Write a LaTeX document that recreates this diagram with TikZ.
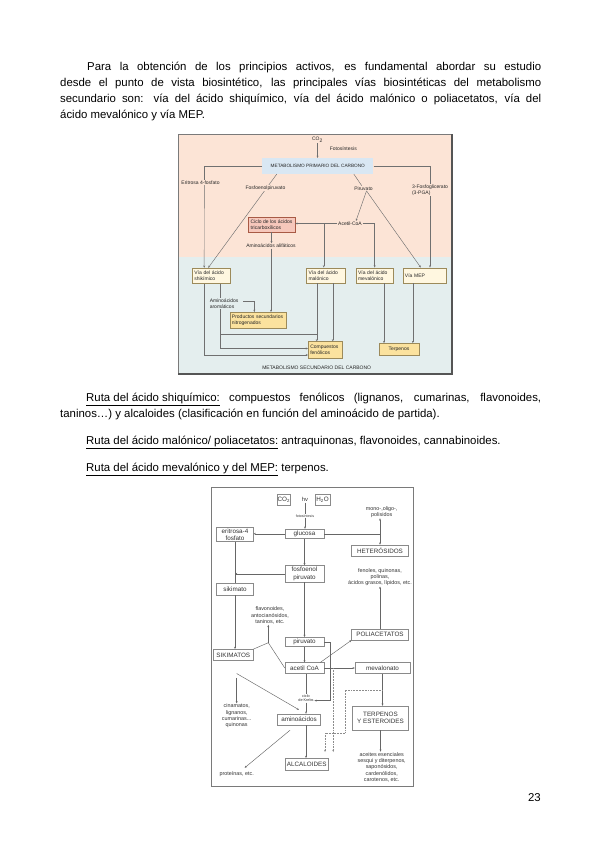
\documentclass[tikz,border=0pt]{standalone}
\usepackage{fontspec}
\setmainfont{Liberation Sans}
\usetikzlibrary{arrows.meta,calc}
\definecolor{peach}{HTML}{FCE4D6}
\definecolor{paleblue}{HTML}{E4EEEE}
\definecolor{metablue}{HTML}{D9E7F3}
\definecolor{ciclofill}{HTML}{F6C7BB}
\definecolor{ciclodraw}{HTML}{A85A45}
\definecolor{viafill}{HTML}{FFF7E0}
\definecolor{viadraw}{HTML}{9C8A5A}
\definecolor{yfill}{HTML}{FBE29E}
\definecolor{lnc}{HTML}{707070}
\definecolor{frameA}{HTML}{555555}
\definecolor{frameB}{HTML}{7A7A7A}
\definecolor{boxgray}{HTML}{8A8A8A}
\definecolor{txtB}{HTML}{333333}
\begin{document}
\begin{tikzpicture}[x=1pt,y=-1pt,
  body/.style={anchor=base west,inner sep=0pt,font=\fontsize{11.4}{13}\selectfont},
  dtxt/.style={inner sep=0.6pt,font=\fontsize{5}{6.5}\selectfont,text=black!85},
  metabox/.style={fill=metablue,inner sep=0pt,minimum width=111pt,minimum height=15.7pt,font=\fontsize{4.7}{6}\selectfont,text=black!85},
  ciclobox/.style={fill=ciclofill,draw=ciclodraw,line width=0.45pt,inner sep=0pt,minimum width=47pt,minimum height=15pt,align=left,font=\fontsize{5}{6.5}\selectfont,text=black!85},
  viabox/.style={fill=viafill,draw=viadraw,line width=0.45pt,inner xsep=2pt,inner ysep=0pt,minimum height=15.5pt,align=left,font=\fontsize{5}{6.5}\selectfont,text=black!85},
  ybox/.style={fill=yfill,draw=viadraw,line width=0.45pt,inner xsep=2pt,inner ysep=0pt,font=\fontsize{5}{6.5}\selectfont,text=black!85},
  ln/.style={draw=lnc,line width=0.45pt},
  arr/.style={-{Stealth[length=2.3pt,width=1.9pt]}},
  bbox/.style={draw=boxgray,line width=0.45pt,fill=white,inner sep=0.5pt,align=center,font=\fontsize{6.3}{7.3}\selectfont,text=txtB},
  bsmall/.style={inner sep=0.5pt,align=center,font=\fontsize{5.4}{6.3}\selectfont,text=txtB},
  ln2/.style={draw=black!60,line width=0.45pt},
  dotl/.style={draw=black!45,line width=0.55pt,densely dotted}
]
\fill[white] (0,0) rectangle (599,848);
\useasboundingbox (0,0) rectangle (599,848);

% ---------- body text ----------
\node[body] (p1a) at (87,70.5) {\makebox[454pt][s]{Para la obtención de los principios activos, es fundamental abordar su estudio}};
\node[body] (p1b) at (60,86.5) {\makebox[481pt][s]{desde el punto de vista biosintético, las principales vías biosintéticas del metabolismo}};
\node[body] (p1c) at (60,102.5) {\makebox[481pt][s]{secundario son: vía del ácido shiquímico, vía del ácido malónico o poliacetatos, vía del}};
\node[body] (p1d) at (60,118.5) {ácido mevalónico y vía MEP.};
\node[body] (p2a) at (86,401) {\makebox[455pt][s]{\underline{Ruta del ácido shiquímico:} compuestos fenólicos (lignanos, cumarinas, flavonoides,}};
\node[body] (p2b) at (60,417) {taninos…) y alcaloides (clasificación en función del aminoácido de partida).};
\node[body] (p3) at (86,444) {\underline{Ruta del ácido malónico/ poliacetatos:} antraquinonas, flavonoides, cannabinoides.};
\node[body] (p4) at (86,471) {\underline{Ruta del ácido mevalónico y del MEP:} terpenos.};
\node[body,anchor=base east] (pg) at (541,801) {23};

% ---------- diagram 1 ----------
\fill[peach] (178,134) rectangle (452,257);
\fill[paleblue] (178,257) rectangle (452,374);
\draw[frameB,line width=0.5pt] (178,134) rectangle (452,374);
\draw[frameA,line width=1.6pt] (452,134) -- (452,374) -- (178,374);

\node[dtxt] (co2a) at (317.5,140) {CO\textsubscript{2}};
\node[dtxt,anchor=west] (fots) at (329,149) {Fotosíntesis};
\node[metabox] (meta) at (317.8,166) {METABOLISMO PRIMARIO DEL CARBONO};
\node[dtxt] (eri) at (200.5,182.5) {Eritrosa 4-fosfato};
\node[dtxt,align=left] (pga) at (430,190) {3-Fosfoglicerato\\(3-PGA)};
\node[dtxt] (piru) at (363.5,188.3) {Piruvato};
\node[dtxt] (acet) at (350,223.5) {Acetil-CoA};
\node[ciclobox] (ciclo) at (271.5,224.5) {Ciclo de los ácidos\\tricarboxílicos};
\node[dtxt] (alif) at (271,246) {Aminoácidos alifáticos};
\node[viabox,text width=33.7pt] (shik) at (211.2,275.8) {Vía del ácido\\shikímico};
\node[viabox,text width=34.5pt] (malo) at (325.8,275.5) {Vía del ácido\\malónico};
\node[viabox,text width=33.3pt] (meva) at (374.7,275.5) {Vía del ácido\\mevalónico};
\node[viabox,text width=39.7pt] (mep) at (424.8,275.5) {Vía MEP};
\node[dtxt,align=left,anchor=west] (arom) at (209,303.5) {Aminoácidos\\aromáticos};
\node[ybox,text width=52.7pt,minimum height=16pt,align=left] (prod) at (258.3,320.3) {Productos secundarios\\nitrogenados};
\node[ybox,text width=30pt,minimum height=16.6pt,align=left] (comp) at (325.3,350) {Compuestos\\fenólicos};
\node[ybox,minimum width=40pt,minimum height=11.7pt] (terp) at (399,349.2) {Terpenos};
\node[dtxt] (msec) at (316.7,367.3) {METABOLISMO SECUNDARIO DEL CARBONO};

\draw[ln,arr] (co2a) -- (co2a |- meta.north);
\draw[ln] (meta.west) -| ([xshift=3.8pt]eri.north);
\draw[ln,arr] ([xshift=3.8pt]eri.south) -- ([xshift=-7pt]shik.north);
\draw[ln,arr] ([xshift=-41pt]meta.south) -- ([xshift=-3pt]shik.north);
\node[dtxt,fill=peach] (fos) at (265.5,188.3) {Fosfoenolpiruvato};
\draw[ln] (meta.east) -| (pga.north);
\draw[ln,arr] (pga.south) -- (pga.south |- mep.north);
\draw[ln] ([xshift=36pt]meta.south) -- (piru);
\draw[ln,arr] ([xshift=3pt]piru.south) -- ([xshift=6pt]acet.north);
\draw[ln,arr] ([xshift=3pt]piru.south) -- ([xshift=-4pt]mep.north);
\draw[ln,arr] (acet.west) -- (acet.west -| ciclo.east);
\coordinate (jm) at ([xshift=-2pt]acet.west -| malo.north);
\draw[ln,arr] (jm) -- (jm |- malo.north);
\draw[ln,arr] (acet.east) -| (meva.north);
\draw[ln,arr] (ciclo.south) -- (ciclo.south |- alif.north);
\draw[ln,arr] (alif.south) -- (alif.south |- prod.north);
\draw[ln] ([xshift=9.5pt]shik.south) -- ([xshift=9.5pt]shik.south |- arom.north);
\draw[ln,arr] ([xshift=4pt,yshift=2pt]arom.east) -| ([xshift=-4pt]prod.north);
\draw[ln,arr] ([xshift=-7pt]shik.south) |- ([yshift=-5pt]comp.west);
\draw[ln,arr] ([xshift=9.5pt]shik.south |- arom.south) |- ([yshift=1.5pt]comp.west);
\coordinate (h1) at ([xshift=9.5pt]shik.south |- 0,334);
\coordinate (h2) at ([xshift=-9pt]malo.south |- 0,334);
\draw[ln] (h1) -- (h2);
\draw[ln,arr] ([xshift=-9pt]malo.south) -- ([xshift=-9pt]malo.south |- comp.north);
\draw[ln,arr] ([xshift=7pt]malo.south) -- ([xshift=7pt]malo.south |- comp.north);
\draw[ln,arr] ([xshift=9.3pt]meva.south) -- ([xshift=9.3pt]meva.south |- terp.north);
\draw[ln,arr] ([xshift=-12pt]mep.south) -- ([xshift=-12pt]mep.south |- terp.north);

% ---------- diagram 2 ----------
\draw[frameB,line width=1.1pt,fill=white] (211.7,487.7) rectangle (413.3,786.7);

\node[bbox,minimum width=12.3pt,minimum height=11.7pt] (co2b) at (283.8,499.8) {CO\textsubscript{2}};
\node[bsmall,font=\fontsize{5.8}{6.5}\selectfont] (hv) at (305,499.7) {hv};
\node[bbox,minimum width=15pt,minimum height=11.7pt] (h2o) at (322.5,499.8) {H\textsubscript{2}O};
\node[bsmall,font=\fontsize{3.6}{4.2}\selectfont] (fot2) at (305,515.7) {fotosíntesis};
\node[bbox,minimum width=39pt,minimum height=9.5pt] (gluc) at (304.5,533.8) {glucosa};
\node[bbox,minimum width=36.6pt,minimum height=14pt] (eri2) at (235,534.7) {eritrosa-4\\fosfato};
\node[bsmall] (mono) at (381.7,512) {mono-,oligo-,\\polisidos};
\node[bbox,minimum width=56.6pt,minimum height=11.7pt] (het) at (380,550.8) {HETERÓSIDOS};
\node[bbox,minimum width=39pt,minimum height=16.5pt,inner ysep=1.2pt] (fpe) at (304.5,573.8) {fosfoenol\\piruvato};
\node[bsmall] (fen) at (380,577) {fenoles, quinonas,\\polinas,\\ácidos grasos, lípidos, etc.};
\node[bbox,minimum width=36.6pt,minimum height=11.7pt] (sik) at (235,589.2) {sikimato};
\node[bsmall] (flav) at (270,615.5) {flavonoides,\\antocianósidos,\\taninos, etc.};
\node[bbox,minimum width=56.6pt,minimum height=11pt] (poli) at (380,634.5) {POLIACETATOS};
\node[bbox,minimum width=39pt,minimum height=9.4pt] (piru2) at (304.5,642) {piruvato};
\node[bbox,minimum width=40pt,minimum height=11.4pt] (sikm) at (233.3,655) {SIKIMATOS};
\node[bbox,minimum width=39pt,minimum height=10.6pt] (acet2) at (304.5,668) {acetil CoA};
\node[bbox,minimum width=55pt,minimum height=10.6pt] (meva2) at (382.5,668) {mevalonato};
\node[bsmall,font=\fontsize{3.8}{4.6}\selectfont] (krebs) at (306,698.3) {ciclo\\de Krebs};
\node[bsmall] (cina) at (236.7,716) {cinamatos,\\lignanos,\\cumarinas...\\quinonas};
\node[bbox,minimum width=43.4pt,minimum height=11pt] (amino) at (299,719.5) {aminoácidos};
\node[bbox,minimum width=55.6pt,minimum height=24pt] (terp2) at (380.5,718) {TERPENOS\\Y ESTEROIDES};
\node[bsmall] (prot) at (236.7,774) {proteínas, etc.};
\node[bbox,minimum width=43.3pt,minimum height=12.4pt] (alca) at (306.7,764.5) {ALCALOIDES};
\node[bsmall] (acei) at (381.7,767.3) {aceites esenciales\\sesqui y diterpenos,\\saponósidos,\\cardenólidos,\\carotenos, etc.};

\draw[ln2] (hv) -- (fot2);
\draw[ln2,arr] (fot2) -- (fot2 |- gluc.north);
\draw[ln2,arr] (gluc.west) -- (gluc.west -| eri2.east);
\coordinate (jg) at (gluc.east -| het.north);
\draw[ln2] (gluc.east) -- (jg);
\draw[ln2,arr] (jg) -- (jg |- mono.south);
\draw[ln2,arr] (jg) -- (het.north);
\draw[ln2,arr] (gluc) -- (fpe);
\draw[ln2] (eri2) -- (sik);
\draw[ln2,arr] (fpe.west) -- (fpe.west -| sik.north);
\draw[ln2,arr] (poli.north) -- (poli.north |- fen.south);
\draw[ln2,arr] (sik.south) -- (sik.south |- sikm.north);
\coordinate (jf) at (268.3,642.7);
\draw[ln2] (sikm.north east) -- (jf) -- (acet2.west);
\draw[ln2,arr] (jf) -- (jf |- flav.south);
\draw[ln2,arr] (fpe) -- (piru2);
\draw[ln2,arr] (piru2) -- (acet2);
\draw[ln2,arr] (piru2.east) -- ++(6,0) |- ([yshift=-2.3pt]krebs.east);
\draw[ln2,arr] ([xshift=-4pt]acet2.north east) -- (poli.south west);
\draw[ln2,arr] (acet2) -- (meva2);
\draw[ln2] (acet2.south -| krebs.north) -- (krebs.north);
\draw[ln2,arr] (krebs.south) -- (krebs.south |- amino.north);
\draw[ln2,arr] ([xshift=3.4pt,yshift=-12.6pt]sikm.south) -- ([yshift=4pt]amino.north);
\draw[ln2,arr] ([xshift=3.4pt,yshift=-17pt]sikm.south) -- (cina.north);
\draw[ln2,arr] ([xshift=-9pt,yshift=-5pt]amino.south) -- ([xshift=8pt,yshift=3pt]prot.north);
\draw[ln2,arr] ([xshift=7pt]amino.south) -- ([xshift=7pt]amino.south |- alca.north);
\draw[ln2,arr] (meva2.south) -- (meva2.south |- terp2.north);
\draw[ln2,arr] (terp2.south) -- (terp2.south |- acei.north);
\coordinate (d1s) at ([xshift=9pt]acet2.east);
\coordinate (d1e) at ([xshift=9pt]acet2.east |- 0,752);
\draw[dotl,arr] (d1s) -- (d1e);
\coordinate (d2s) at (meva2.south |- 0,690);
\coordinate (d2m) at (345,733);
\coordinate (d2e) at (325,752);
\draw[dotl,arr] (d2s) -| (d2m) -| (d2e);
\end{tikzpicture}
\end{document}
